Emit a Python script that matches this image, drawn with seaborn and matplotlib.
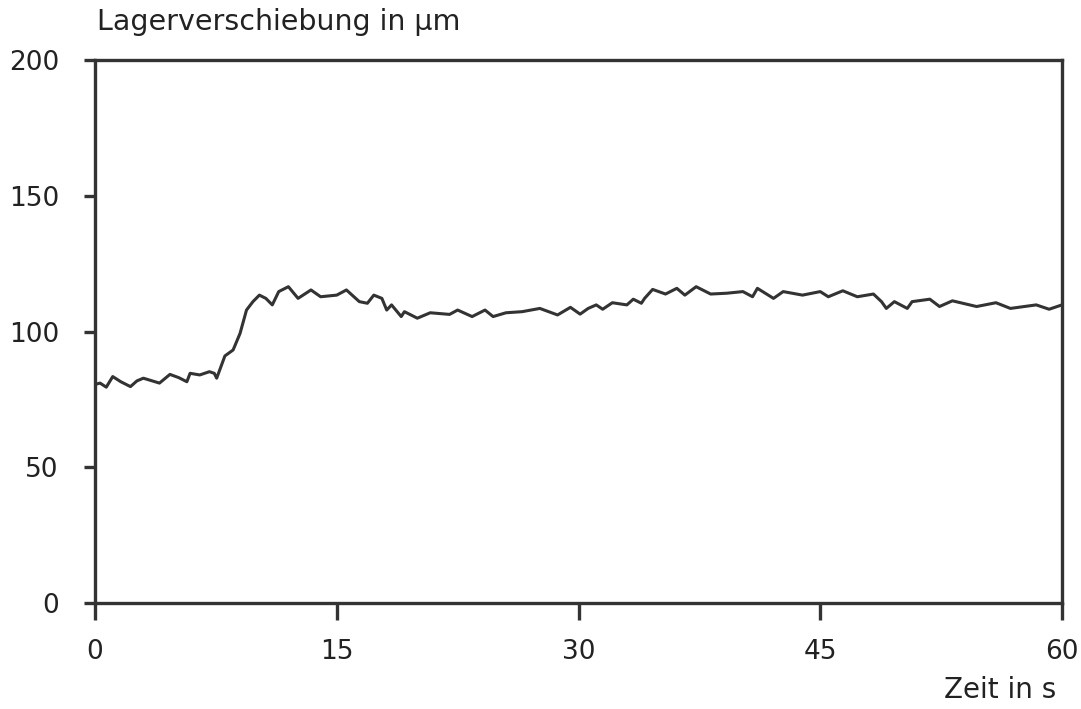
import matplotlib
matplotlib.use("Agg")
import matplotlib.pyplot as plt
import seaborn as sns
import pandas as pd

time_s = [0.0, 0.31, 0.7, 1.1, 1.6, 2.2, 2.6, 3.0, 3.5, 4.0, 4.65, 5.2, 5.7, 5.9, 6.5, 7.1, 7.4, 7.55,
          8.06, 8.57, 9.0, 9.4, 9.8, 10.2, 10.6, 11.0, 11.4, 12.0, 12.6, 13.4, 14.0, 15.0, 15.6,
          16.4, 16.9, 17.3, 17.8, 18.1, 18.4, 19.0, 19.2, 20.0, 20.8, 22.0, 22.5, 23.4, 24.2, 24.7,
          25.5, 26.5, 27.6, 28.7, 29.5, 30.1, 30.6, 31.1, 31.5, 32.1, 33.0, 33.4, 33.9, 34.1, 34.6,
          35.4, 36.1, 36.6, 37.3, 38.2, 39.2, 40.2, 40.8, 41.1, 42.1, 42.7, 43.9, 45.0, 45.5, 46.4,
          47.3, 48.3, 48.8, 49.1, 49.6, 50.4, 50.7, 51.8, 52.4, 53.2, 54.7, 55.9, 56.8, 58.4, 59.2, 60.0]
displacement_um = [80.5, 81.0, 79.5, 83.4, 81.5, 79.7, 81.8, 82.8, 81.9, 81.0, 84.2, 83.0, 81.5, 84.6, 84.0, 85.2, 84.6, 82.8,
                   91.0, 93.2, 99.3, 107.9, 111.0, 113.4, 112.2, 109.8, 114.7, 116.5, 112.2, 115.3, 112.8, 113.4, 115.3,
                   111.0, 110.4, 113.4, 112.2, 107.9, 109.8, 105.5, 107.3, 104.9, 106.9, 106.3, 107.9, 105.5, 107.9, 105.5,
                   106.9, 107.3, 108.5, 106.1, 108.9, 106.4, 108.5, 109.8, 108.2, 110.6, 109.8, 111.9, 110.4, 112.2, 115.5,
                   113.8, 115.9, 113.4, 116.5, 113.8, 114.1, 114.7, 112.8, 115.9, 112.2, 114.7, 113.4, 114.7, 112.8, 115.0,
                   112.8, 113.8, 111.0, 108.5, 111.0, 108.5, 111.0, 111.9, 109.2, 111.3, 109.2, 110.6, 108.5, 109.8, 108.2, 109.8]

x_ticks = [0, 15, 30, 45, 60]
y_ticks = [0, 50, 100, 150, 200]
y_title = "Lagerverschiebung in µm"
x_title = "Zeit in s"

sns.set_style("white")
plt.rcParams['font.family'] = ['DejaVu Sans']

df = pd.DataFrame({"t": time_s, "v": displacement_um})

fig = plt.figure(figsize=(10.81, 7.09), dpi=100)
ax = fig.add_axes([95/1081, 1 - 603/709, (1062-95)/1081, (603-60)/709])
sns.lineplot(data=df, x="t", y="v", ax=ax, color="#333333", linewidth=2.2)

ax.set_xlim(0, 60)
ax.set_ylim(0, 200)
ax.set_xticks(x_ticks)
ax.set_yticks(y_ticks)
ax.set_xticklabels([str(v) for v in x_ticks], fontsize=19, color="#222222")
ax.set_yticklabels([str(v) for v in y_ticks], fontsize=19, color="#222222")
for s in ax.spines.values():
    s.set_linewidth(2.4)
    s.set_color("#333333")
    s.set_visible(True)
ax.tick_params(axis="x", bottom=True, direction="out", length=12, width=2.4, color="#333333", pad=14)
ax.tick_params(axis="y", left=True, direction="out", length=8, width=2.4, color="#333333", pad=18)
ax.set_xlabel("")
ax.set_ylabel("")
ax.grid(False)

fig.text(97/1081, 1 - 22/709, y_title, fontsize=20.5, ha="left", va="center", color="#222222")
fig.text(1056/1081, 1 - 690/709, x_title, fontsize=20, ha="right", va="center", color="#222222")

fig.savefig("out.png", dpi=100, facecolor="white")
